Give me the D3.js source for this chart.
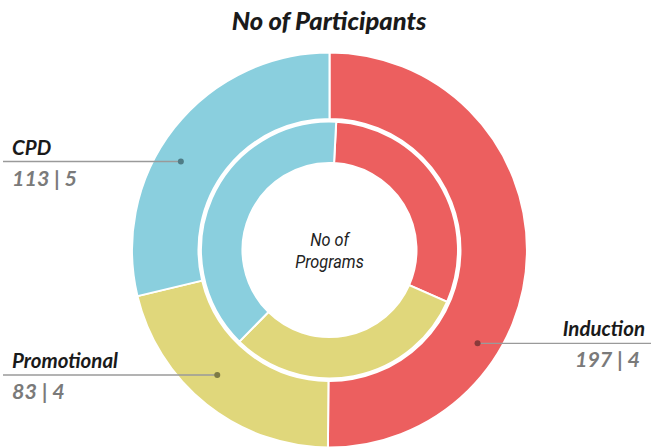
<!DOCTYPE html>
<html><head><meta charset="utf-8">
<script src="https://cdn.jsdelivr.net/npm/d3@7"></script>
<style>body{margin:0;background:#fff}svg{display:block}</style>
</head><body>
<svg id="c" width="651" height="447"></svg>
<script>
const categories = ["Induction", "Promotional", "CPD"];
const participants = [197, 83, 113];
const programs = [4, 4, 5];
const title = "No of Participants";
const centerLabel = ["No of", "Programs"];
const colors = ["#EC5F5F", "#E0D77B", "#8ACFDE"];
const dotColors = ["#8a3a3a", "#7d7a45", "#4f7c86"];

const svg = d3.select("#c");
const cx = 329.5, cy = 250;
const color = d3.scaleOrdinal().domain(categories).range(colors);

svg.append("text").attr("x", 329).attr("y", 30).attr("text-anchor", "middle")
  .attr("font-family", "Lato, sans-serif").attr("font-weight", 900).attr("font-style", "italic")
  .attr("font-size", 25.5).attr("fill", "#1a1a1a").text(title);

const g = svg.append("g").attr("transform", `translate(${cx},${cy})`);

const outerPie = d3.pie().sort(null).value(d => d.v);
const outerArcs = outerPie(categories.map((c, i) => ({c, v: participants[i]})));
const outerArc = d3.arc().innerRadius(131).outerRadius(197.5);
g.selectAll("path.o").data(outerArcs).join("path").attr("class", "o")
  .attr("d", outerArc).attr("fill", d => color(d.data.c))
  .attr("stroke", "#fff").attr("stroke-width", 2);

const off = 3 * Math.PI / 180;
const innerPie = d3.pie().sort(null).value(d => d.v).startAngle(off).endAngle(2 * Math.PI + off);
const innerArcs = innerPie(categories.map((c, i) => ({c, v: programs[i]})));
const innerArc = d3.arc().innerRadius(87).outerRadius(128.5);
g.selectAll("path.i").data(innerArcs).join("path").attr("class", "i")
  .attr("d", innerArc).attr("fill", d => color(d.data.c))
  .attr("stroke", "#fff").attr("stroke-width", 2);

centerLabel.forEach((t, i) => g.append("text").attr("text-anchor", "middle")
  .attr("transform", `translate(0,${-4 + i * 21.5}) scale(0.88,1)`)
  .attr("font-family", "Roboto, sans-serif")
  .attr("font-style", "italic").attr("font-size", 18.5).attr("fill", "#222").text(t));

// label layout
const layout = {
  "CPD": {y: 161.5, side: -1, r: 173, tx: 12, lineX: 3},
  "Promotional": {y: 375, side: -1, r: 168, tx: 12, lineX: 3},
  "Induction": {y: 343.3, side: 1, r: 175, tx: 645, lineX: 651}
};
categories.forEach((c, i) => {
  const L = layout[c];
  const dy = L.y - cy;
  const dx = L.side * Math.sqrt(L.r * L.r - dy * dy);
  const px = cx + dx;
  svg.append("line").attr("x1", L.lineX).attr("x2", px).attr("y1", L.y).attr("y2", L.y)
    .attr("stroke", "#9a9a9a").attr("stroke-width", 1.3);
  svg.append("circle").attr("cx", px).attr("cy", L.y).attr("r", 3).attr("fill", dotColors[i]);
  const anchor = L.side < 0 ? "start" : "end";
  svg.append("text").attr("x", L.tx).attr("y", L.y - 7).attr("text-anchor", anchor)
    .attr("font-family", "Lato, sans-serif").attr("font-weight", 700).attr("font-style", "italic")
    .attr("font-size", 20.5).attr("fill", "#1a1a1a").text(c);
  svg.append("text").attr("x", L.side < 0 ? L.tx : L.tx - 5).attr("y", L.y + 24).attr("text-anchor", anchor)
    .attr("font-family", "Lato, sans-serif").attr("font-weight", 700).attr("font-style", "italic")
    .attr("font-size", 21.5).attr("fill", "#7a7a7a").text(`${participants[i]} | ${programs[i]}`);
});
</script>
</body></html>
